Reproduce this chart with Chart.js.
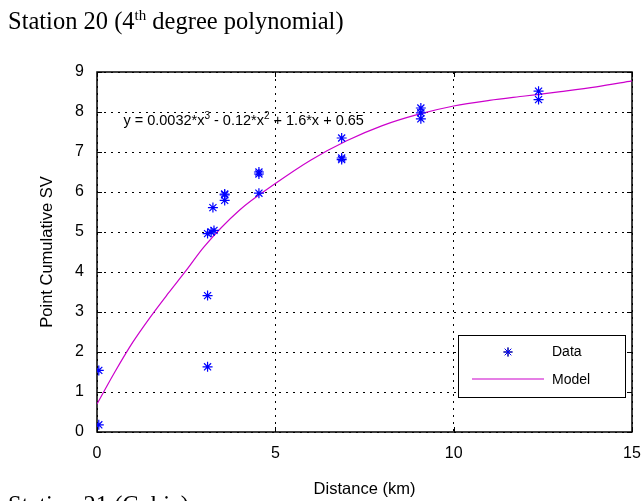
<!DOCTYPE html>
<html>
<head>
<meta charset="utf-8">
<script src="https://cdn.jsdelivr.net/npm/chart.js@4.4.1/dist/chart.umd.min.js"></script>
<style>
  html, body { margin: 0; padding: 0; background: #fff; }
  #wrap { width: 643px; height: 501px; }
</style>
</head>
<body>
<div id="wrap"><canvas id="c" width="643" height="501"></canvas></div>
<script>
// Observed points: distance from station (km) and point cumulative SV
const distanceKm   = [0.05, 0.05, 3.10, 3.10, 3.10, 3.20, 3.28, 3.25, 3.58, 3.58, 3.58, 4.54, 4.54, 4.54, 6.86, 6.86, 6.86, 9.08, 9.08, 9.08, 12.38, 12.38];
const cumulativeSV = [0.18, 1.54, 1.63, 3.41, 4.96, 5.00, 5.04, 5.61, 5.79, 5.93, 5.95, 5.97, 6.45, 6.50, 6.81, 6.85, 7.35, 7.83, 7.98, 8.10, 8.31, 8.52];

// Fitted model curve, sampled along the distance axis
const modelX = [0, 0.5, 1, 1.5, 2, 2.5, 3, 4, 5, 6, 7, 8, 9, 10, 11, 12, 13, 14, 15];
const modelY = [0.70, 1.50, 2.24, 2.88, 3.47, 4.04, 4.63, 5.55, 6.21, 6.80, 7.28, 7.66, 7.94, 8.15, 8.29, 8.40, 8.51, 8.63, 8.78];

// Axis ticks
const xTicks = [0, 5, 10, 15];
const yTicks = [0, 1, 2, 3, 4, 5, 6, 7, 8, 9];

const SANS = "'Liberation Sans', Arial, sans-serif";
const SERIF = "'Liberation Serif', 'Times New Roman', serif";
const DATA_COLOR = '#0000ff';
const MODEL_COLOR = '#cc00cc';

const dataPoints = distanceKm.map((x, i) => ({ x, y: cumulativeSV[i] }));
const modelPoints = modelX.map((x, i) => ({ x, y: modelY[i] }));

// Keep the plot area fixed: no extra room for overhanging tick labels
function fixScale(size, prop) {
  return s => {
    s[prop] = size;
    s.paddingLeft = 0; s.paddingRight = 0; s.paddingTop = 0; s.paddingBottom = 0;
  };
}

// Page title, trailing caption, plot frame with inward ticks, equation and legend
const decorations = {
  id: 'decorations',
  beforeDraw(chart) {
    const ctx = chart.ctx;
    ctx.save();
    ctx.fillStyle = '#fff';
    ctx.fillRect(0, 0, chart.width, chart.height);
    ctx.restore();
  },
  beforeDatasetsDraw(chart) {
    const { ctx, chartArea: a, scales: { x, y } } = chart;
    ctx.save();
    ctx.strokeStyle = '#000';
    ctx.lineWidth = 1.5;
    ctx.strokeRect(a.left, a.top, a.right - a.left, a.bottom - a.top);
    ctx.lineWidth = 1;
    const t = 5;
    ctx.beginPath();
    xTicks.forEach(v => {
      const px = Math.round(x.getPixelForValue(v)) + 0.5;
      ctx.moveTo(px, a.bottom); ctx.lineTo(px, a.bottom - t);
      ctx.moveTo(px, a.top); ctx.lineTo(px, a.top + t);
    });
    yTicks.forEach(v => {
      const py = Math.round(y.getPixelForValue(v)) + 0.5;
      ctx.moveTo(a.left, py); ctx.lineTo(a.left + t, py);
      ctx.moveTo(a.right, py); ctx.lineTo(a.right - t, py);
    });
    ctx.stroke();
    ctx.restore();
  },
  afterDraw(chart) {
    const { ctx, chartArea: a, scales: { x, y } } = chart;
    ctx.save();
    ctx.fillStyle = '#000';
    ctx.textBaseline = 'alphabetic';
    ctx.textAlign = 'left';

    // Page title with superscript ordinal
    let cx = 8;
    const by = 29;
    ctx.font = '24.5px ' + SERIF;
    let s = 'Station 20 (4';
    ctx.fillText(s, cx, by); cx += ctx.measureText(s).width;
    ctx.font = '15px ' + SERIF;
    s = 'th';
    ctx.fillText(s, cx, by - 9); cx += ctx.measureText(s).width;
    ctx.font = '24.5px ' + SERIF;
    ctx.fillText(' degree polynomial)', cx, by);

    // Start of the next section's caption
    ctx.fillText('Station 21 (Cubic)', 8, 513);

    // Model equation
    const parts = [
      ['y = 0.0032*x', false], ['3', true], [' - 0.12*x', false], ['2', true], [' + 1.6*x + 0.65', false]
    ];
    let ex = x.getPixelForValue(0.74);
    const ey = y.getPixelForValue(7.8) + 5;
    parts.forEach(([txt, sup]) => {
      ctx.font = (sup ? '10px ' : '14.5px ') + SANS;
      ctx.fillText(txt, ex, sup ? ey - 6 : ey);
      ex += ctx.measureText(txt).width;
    });

    // Legend box
    const lw = 167, lh = 62;
    const lx = a.right - 7 - lw, ly = a.bottom - 35 - lh;
    ctx.fillStyle = '#fff';
    ctx.fillRect(lx, ly, lw, lh);
    ctx.strokeStyle = '#000';
    ctx.lineWidth = 1;
    ctx.strokeRect(Math.round(lx) + 0.5, Math.round(ly) + 0.5, lw, lh);
    Chart.helpers.drawPoint(ctx, { pointStyle: 'star', radius: 4.5, borderWidth: 1, rotation: 0 }, lx + 50, ly + 17);
    ctx.strokeStyle = DATA_COLOR;
    ctx.stroke();
    ctx.strokeStyle = MODEL_COLOR;
    ctx.lineWidth = 1.2;
    ctx.beginPath();
    ctx.moveTo(lx + 14, ly + 44); ctx.lineTo(lx + 86, ly + 44);
    ctx.stroke();
    ctx.fillStyle = '#000';
    ctx.font = '14px ' + SANS;
    ctx.textBaseline = 'middle';
    ctx.fillText('Data', lx + 94, ly + 17);
    ctx.fillText('Model', lx + 94, ly + 45);
    ctx.restore();
  }
};

new Chart(document.getElementById('c'), {
  type: 'scatter',
  data: {
    datasets: [
      {
        label: 'Data',
        data: dataPoints,
        pointStyle: 'star',
        pointRadius: 5,
        pointBorderWidth: 1.2,
        borderColor: DATA_COLOR,
        backgroundColor: DATA_COLOR,
        showLine: false,
        order: 1
      },
      {
        label: 'Model',
        data: modelPoints,
        showLine: true,
        pointRadius: 0,
        borderColor: MODEL_COLOR,
        borderWidth: 1.2,
        cubicInterpolationMode: 'monotone',
        fill: false,
        order: 2
      }
    ]
  },
  options: {
    responsive: false,
    devicePixelRatio: 1,
    animation: false,
    layout: { padding: { top: 72, right: 11, bottom: 0, left: 0 } },
    plugins: { legend: { display: false }, tooltip: { enabled: false }, title: { display: false } },
    scales: {
      x: {
        type: 'linear', min: 0, max: 15,
        afterBuildTicks: s => { s.ticks = xTicks.map(v => ({ value: v })); },
        afterFit: fixScale(69, 'height'),
        ticks: { color: '#000', font: { family: SANS, size: 16 }, padding: 12, maxRotation: 0 },
        grid: { color: '#000', lineWidth: 1, drawTicks: false },
        border: { display: false, dash: [2, 5] },
        title: { display: true, text: 'Distance (km)', color: '#000', font: { family: SANS, size: 16.5 }, padding: { top: 0, bottom: 2 } }
      },
      y: {
        type: 'linear', min: 0, max: 9,
        afterBuildTicks: s => { s.ticks = yTicks.map(v => ({ value: v })); },
        afterFit: fixScale(97, 'width'),
        ticks: { color: '#000', font: { family: SANS, size: 16 }, padding: 13 },
        grid: { color: '#000', lineWidth: 1, drawTicks: false },
        border: { display: false, dash: [2, 5] },
        title: { display: true, text: 'Point Cumulative SV', color: '#000', font: { family: SANS, size: 16.5 }, padding: { top: 38, bottom: 0 } }
      }
    }
  },
  plugins: [decorations]
});
</script>
</body>
</html>
